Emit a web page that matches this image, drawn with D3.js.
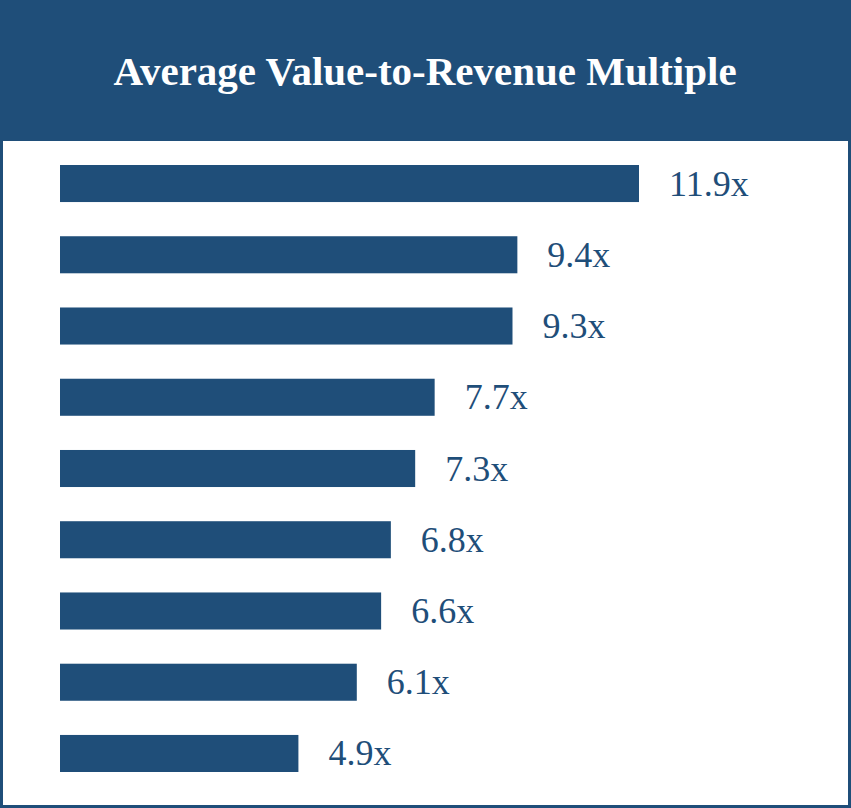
<!DOCTYPE html>
<html>
<head>
<meta charset="utf-8">
<script src="https://cdn.jsdelivr.net/npm/d3@7"></script>
<style>
  body { margin: 0; background: #fff; }
  svg { display: block; }
</style>
</head>
<body>
<svg id="svg" width="851" height="808"></svg>
<script>
var categories = ["c1", "c2", "c3", "c4", "c5", "c6", "c7", "c8", "c9"];
var values = [11.9, 9.4, 9.3, 7.7, 7.3, 6.8, 6.6, 6.1, 4.9];
var title = "Average Value-to-Revenue Multiple";

var blue = "#1f4e79";
var W = 851, H = 808;
var svg = d3.select("#svg");

// frame + header band
svg.append("rect")
  .attr("x", 1.5).attr("y", 1.5)
  .attr("width", W - 3).attr("height", H - 3)
  .attr("fill", "#fff")
  .attr("stroke", blue).attr("stroke-width", 3);

svg.append("rect")
  .attr("x", 0).attr("y", 0)
  .attr("width", W).attr("height", 141)
  .attr("fill", blue);

svg.append("text")
  .attr("x", 425).attr("y", 85)
  .attr("text-anchor", "middle")
  .attr("fill", "#fff")
  .attr("font-family", "Liberation Serif, serif")
  .attr("font-weight", "bold")
  .attr("font-size", 41)
  .text(title);

var data = categories.map(function(c, i){ return {cat: c, val: values[i]}; });

var xScale = d3.scaleLinear()
  .domain([0, 11.9])
  .range([60, 639]);

var yScale = d3.scaleBand()
  .domain(categories)
  .range([165, 772])
  .paddingInner(0.48)
  .paddingOuter(0);

svg.selectAll("rect.bar")
  .data(data)
  .enter()
  .append("rect")
  .attr("class", "bar")
  .attr("x", xScale(0))
  .attr("y", function(d){ return yScale(d.cat); })
  .attr("width", function(d){ return xScale(d.val) - xScale(0); })
  .attr("height", yScale.bandwidth())
  .attr("fill", blue);

svg.selectAll("text.lbl")
  .data(data)
  .enter()
  .append("text")
  .attr("class", "lbl")
  .attr("x", function(d){ return xScale(d.val) + 30; })
  .attr("y", function(d){ return yScale(d.cat) + yScale.bandwidth() / 2 + 12; })
  .attr("fill", blue)
  .attr("font-family", "Liberation Serif, serif")
  .attr("font-size", 36)
  .text(function(d){ return d.val.toFixed(1) + "x"; });
</script>
</body>
</html>
